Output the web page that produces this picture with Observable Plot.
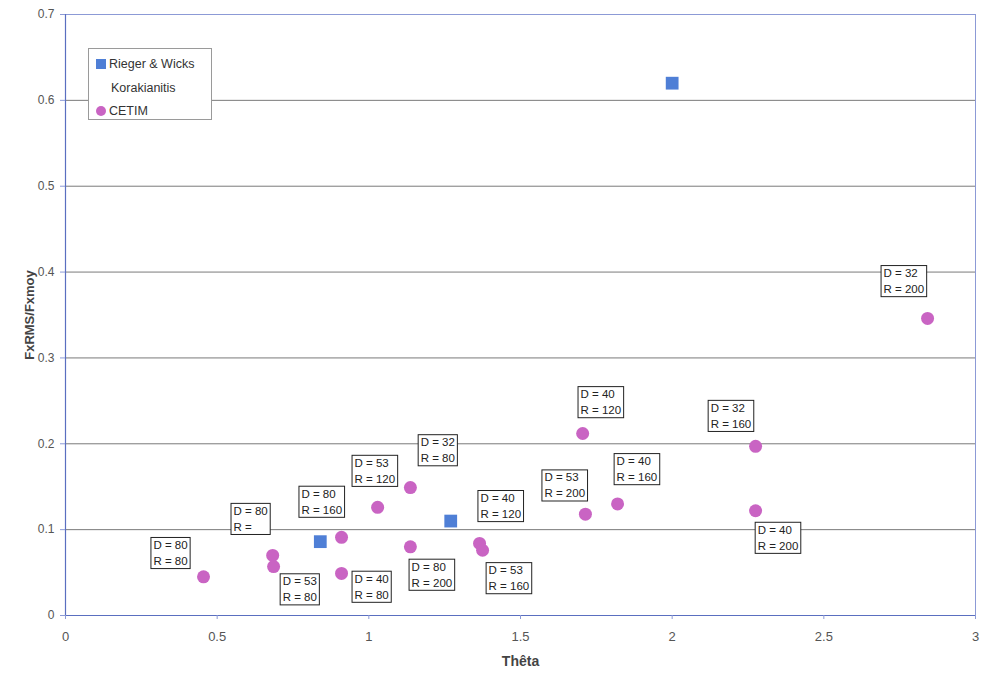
<!DOCTYPE html>
<html>
<head>
<meta charset="utf-8">
<script src="https://cdn.jsdelivr.net/npm/d3@7"></script>
<script src="https://cdn.jsdelivr.net/npm/@observablehq/plot@0.6"></script>
<style>
  body { margin: 0; background: #fff; font-family: "Liberation Sans", Arial, sans-serif; }
  #wrap { position: relative; width: 981px; height: 677px; }
  #legend { position: absolute; left: 88px; top: 48px; width: 124px; height: 72px; box-sizing: border-box;
            border: 1px solid #9a9a9a; background: #fff; font-size: 12.5px; color: #333; padding-top: 6px; }
  .li { position: relative; height: 23.5px; line-height: 18px; padding-left: 20px; }
  .sw { position: absolute; left: 7px; top: 4px; width: 10px; height: 10px; }
</style>
</head>
<body>
<div id="wrap"><div id="legend"></div></div>
<script>
// ---- data ----
const seriesNames = ["Rieger & Wicks", "Korakianitis", "CETIM"];
const seriesColors = ["#4f7fd6", null, "#c964c3"];

const riegerTheta = [2.0, 0.84, 1.27];
const riegerRatio = [0.62, 0.086, 0.11];

const korakTheta = [];
const korakRatio = [];

const cetimTheta = [0.455, 0.683, 0.686, 0.91, 0.91, 1.029, 1.137, 1.137, 1.365, 1.375, 1.705, 1.714, 1.82, 2.275, 2.275, 2.842];
const cetimRatio = [0.045, 0.070, 0.057, 0.091, 0.049, 0.126, 0.149, 0.080, 0.084, 0.076, 0.212, 0.118, 0.130, 0.197, 0.122, 0.346];

const labelText = [
  "D = 80\nR = 80", "D = 80\nR =", "D = 80\nR = 160", "D = 53\nR = 120", "D = 32\nR = 80",
  "D = 53\nR = 80", "D = 40\nR = 80", "D = 80\nR = 200", "D = 53\nR = 160", "D = 40\nR = 120",
  "D = 53\nR = 200", "D = 40\nR = 120", "D = 40\nR = 160", "D = 32\nR = 160", "D = 40\nR = 200",
  "D = 32\nR = 200"
];
const labelTheta = [0.280, 0.544, 0.768, 0.943, 1.161, 0.706, 0.943, 1.131, 1.385, 1.358, 1.569, 1.688, 1.807, 2.117, 2.272, 2.687];
const labelRatio = [0.0943, 0.134, 0.154, 0.190, 0.214, 0.052, 0.055, 0.069, 0.065, 0.149, 0.173, 0.270, 0.192, 0.254, 0.112, 0.411];

const xTicks = [0, 0.5, 1, 1.5, 2, 2.5, 3];
const yTicks = [0, 0.1, 0.2, 0.3, 0.4, 0.5, 0.6, 0.7];
const gridValues = [0.1, 0.2, 0.3, 0.4, 0.5, 0.6];

// ---- tables ----
const rieger = riegerTheta.map((t, i) => ({theta: t, ratio: riegerRatio[i]}));
const korak = korakTheta.map((t, i) => ({theta: t, ratio: korakRatio[i]}));
const cetim = cetimTheta.map((t, i) => ({theta: t, ratio: cetimRatio[i]}));
const labels = labelText.map((s, i) => ({text: s, theta: labelTheta[i], ratio: labelRatio[i]}));

const chart = Plot.plot({
  width: 981,
  height: 677,
  marginLeft: 65,
  marginRight: 6,
  marginTop: 14,
  marginBottom: 62,
  style: {fontFamily: "Liberation Sans, Arial, sans-serif", background: "#fff"},
  x: {domain: [0, 3], ticks: xTicks, tickFormat: d => String(d), label: null},
  y: {domain: [0, 0.7], ticks: yTicks, tickFormat: d => String(d), label: null},
  marks: [
    Plot.ruleY(gridValues, {stroke: "#7a7a7a", strokeWidth: 1}),
    Plot.frame({stroke: "#8c9ad6", strokeWidth: 1}),
    Plot.ruleX([0], {stroke: "#5a6fc0", strokeWidth: 1.2}),
    Plot.ruleY([0], {stroke: "#5a6fc0", strokeWidth: 1.2}),
    Plot.axisY({ticks: yTicks, tickFormat: d => String(d), tickSize: 5, tickPadding: 6, fontSize: 12, color: "#555", stroke: "#8c9ad6", label: null}),
    Plot.axisX({ticks: xTicks, tickFormat: d => String(d), tickSize: 4, tickPadding: 12, fontSize: 13, color: "#555", stroke: "#8c9ad6", label: null}),
    Plot.text(["FxRMS/Fxmoy"], {frameAnchor: "left", textAnchor: "middle", dx: -36, rotate: -90, fontWeight: "bold", fontSize: 13, fill: "#444"}),
    Plot.text(["Thêta"], {frameAnchor: "bottom", dy: 50, fontWeight: "bold", fontSize: 14, fill: "#444"}),
    Plot.text(labels, {x: "theta", y: "ratio", text: "text", textAnchor: "start", lineAnchor: "top",
      dx: 3, dy: 3, fontSize: 11.5, lineHeight: 1.4, fill: "#222", ariaDescription: "point-labels"}),
    Plot.dot(rieger, {x: "theta", y: "ratio", symbol: "square", r: 7.2, fill: seriesColors[0], stroke: "none"}),
    Plot.dot(korak, {x: "theta", y: "ratio", symbol: "triangle", r: 6, fill: "#fff", stroke: "none"}),
    Plot.dot(cetim, {x: "theta", y: "ratio", r: 6.5, fill: seriesColors[2], stroke: "none"})
  ]
});

document.getElementById("wrap").prepend(chart);

// boxes behind point labels
const g = chart.querySelector('g[aria-description="point-labels"]');
if (g) {
  const ns = "http://www.w3.org/2000/svg";
  g.querySelectorAll("text").forEach(t => {
    const b = t.getBBox();
    const r = document.createElementNS(ns, "rect");
    r.setAttribute("x", b.x - 2.5);
    r.setAttribute("y", b.y - 1.5);
    r.setAttribute("width", b.width + 5);
    r.setAttribute("height", b.height + 3);
    r.setAttribute("fill", "#fff");
    r.setAttribute("stroke", "#222");
    r.setAttribute("stroke-width", "1");
    const tr = t.getAttribute("transform");
    if (tr) r.setAttribute("transform", tr);
    g.insertBefore(r, t);
  });
}

// legend
const legend = document.getElementById("legend");
seriesNames.forEach((name, i) => {
  const row = document.createElement("div");
  row.className = "li";
  if (seriesColors[i]) {
    const sw = document.createElement("span");
    sw.className = "sw";
    sw.style.background = seriesColors[i];
    if (i === 2) sw.style.borderRadius = "50%";
    row.appendChild(sw);
  }
  row.appendChild(document.createTextNode(name));
  if (!seriesColors[i]) row.style.paddingLeft = "22px";
  legend.appendChild(row);
});
</script>
</body>
</html>
